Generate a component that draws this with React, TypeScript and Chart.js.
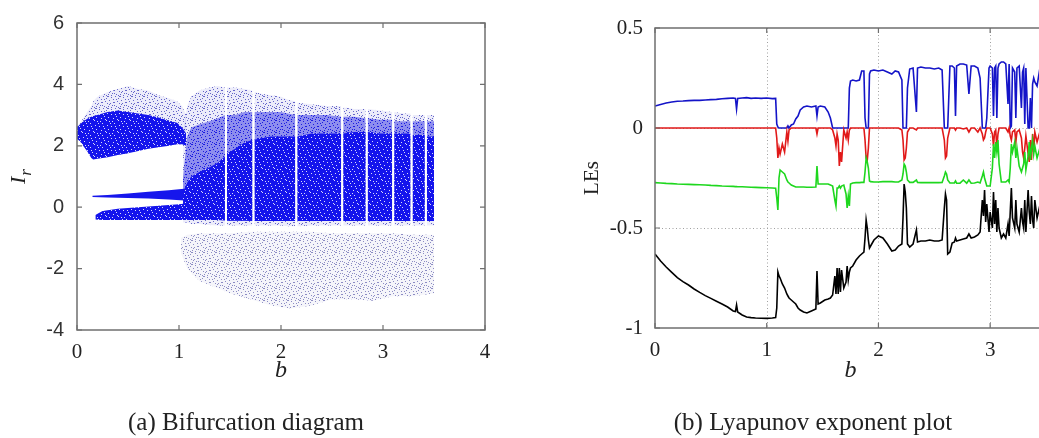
import React, { useEffect, useRef } from "react";
import { Chart, registerables } from "chart.js";

Chart.register(...registerables);

// ---------------- (a) Bifurcation diagram : envelopes ----------------
const bifXTicks = [0, 1, 2, 3, 4];
const bifYTicks = [-4, -2, 0, 2, 4, 6];

// upper band (before chaos)
const band1B = [0, 0.03, 0.06, 0.1, 0.14, 0.16, 0.2, 0.3, 0.4, 0.5, 0.6, 0.7, 0.8, 0.9, 0.98, 1.03, 1.07];
const band1Lo = [2.22, 2.15, 2.0, 1.82, 1.6, 1.55, 1.58, 1.63, 1.7, 1.76, 1.83, 1.9, 1.95, 2.0, 2.05, 2.05, 2.0];
const band1Hi = [2.6, 2.7, 2.78, 2.88, 2.95, 2.97, 3.0, 3.1, 3.15, 3.1, 3.05, 3.0, 2.92, 2.82, 2.75, 2.6, 2.4];
const band1Halo = [2.62, 2.75, 2.9, 3.1, 3.3, 3.45, 3.6, 3.75, 3.85, 3.95, 3.85, 3.8, 3.65, 3.55, 3.45, 3.3, 3.0];

// thin middle band
const midB = [0.15, 0.3, 0.5, 0.7, 0.9, 1.05];
const midLo = [0.33, 0.32, 0.3, 0.28, 0.25, 0.22];
const midHi = [0.37, 0.4, 0.45, 0.5, 0.55, 0.6];

// lower wedge
const lowB = [0.18, 0.25, 0.4, 0.6, 0.8, 1.0, 1.06];
const lowLo = [-0.4, -0.42, -0.42, -0.42, -0.42, -0.42, -0.42];
const lowHi = [-0.25, -0.12, -0.05, 0.0, 0.05, 0.1, 0.12];

// chaotic region (null = periodic window, white stripe)
const chaosB = [1.04, 1.08, 1.12, 1.2, 1.3, 1.38, 1.45, 1.46, 1.47, 1.55, 1.64, 1.72, 1.73, 1.74, 1.8, 1.9, 2.0, 2.07, 2.14, 2.15, 2.16, 2.3, 2.45, 2.59, 2.6, 2.61, 2.72, 2.83, 2.84, 2.85, 2.97, 3.09, 3.1, 3.11, 3.2, 3.27, 3.28, 3.29, 3.36, 3.41, 3.42, 3.43, 3.5];
const chaosCoreLo = [-0.4, -0.42, -0.42, -0.42, -0.42, -0.42, -0.43, null, -0.44, -0.44, -0.44, -0.45, null, -0.45, -0.45, -0.45, -0.45, -0.45, -0.45, null, -0.45, -0.45, -0.45, -0.45, null, -0.45, -0.45, -0.45, null, -0.45, -0.45, -0.45, null, -0.45, -0.45, -0.45, null, -0.45, -0.45, -0.45, null, -0.45, -0.45];
const chaosCoreHi = [0.5, 0.8, 1.0, 1.15, 1.3, 1.45, 1.65, null, 1.75, 1.9, 2.1, 2.2, null, 2.2, 2.25, 2.3, 2.3, 2.3, 2.3, null, 2.3, 2.4, 2.4, 2.4, null, 2.4, 2.45, 2.45, null, 2.45, 2.4, 2.4, null, 2.4, 2.4, 2.4, null, 2.35, 2.35, 2.35, null, 2.3, 2.3];
const chaosMidHi = [1.0, 2.3, 2.6, 2.7, 2.8, 2.9, 3.0, null, 3.0, 3.0, 3.1, 3.1, null, 3.1, 3.1, 3.1, 3.1, 3.05, 3.0, null, 3.0, 3.0, 3.0, 2.95, null, 2.95, 2.95, 2.9, null, 2.9, 2.85, 2.85, null, 2.8, 2.8, 2.8, null, 2.8, 2.8, 2.8, null, 2.8, 2.8];
const chaosHaloLo = [-0.5, -0.5, -0.55, -0.55, -0.58, -0.6, -0.6, null, -0.6, -0.6, -0.6, -0.6, null, -0.6, -0.6, -0.6, -0.6, -0.62, -0.62, null, -0.62, -0.6, -0.6, -0.6, null, -0.6, -0.6, -0.6, null, -0.6, -0.6, -0.6, null, -0.6, -0.6, -0.6, null, -0.6, -0.6, -0.6, null, -0.6, -0.6];
const chaosHaloHi = [2.5, 3.3, 3.6, 3.8, 3.9, 3.95, 3.9, null, 3.9, 3.9, 3.85, 3.8, null, 3.75, 3.7, 3.65, 3.6, 3.5, 3.45, null, 3.4, 3.35, 3.3, 3.3, null, 3.25, 3.2, 3.2, null, 3.2, 3.15, 3.1, null, 3.1, 3.05, 3.05, null, 3.0, 3.0, 3.0, null, 3.0, 3.0];

// sparse lower cloud
const cloudB = [1.02, 1.08, 1.2, 1.35, 1.5, 1.7, 1.9, 2.1, 2.3, 2.5, 2.7, 2.9, 3.1, 3.3, 3.5];
const cloudLo = [-1.5, -2.0, -2.4, -2.6, -2.8, -3.0, -3.2, -3.3, -3.2, -3.0, -3.0, -3.05, -2.9, -2.9, -2.8];
const cloudHi = [-1.0, -0.9, -0.85, -0.85, -0.85, -0.8, -0.8, -0.8, -0.8, -0.85, -0.85, -0.85, -0.85, -0.9, -0.9];

// ---------------- (b) Lyapunov exponents ----------------
const leXTicks = [0, 1, 2, 3];
const leYTicks = [-1, -0.5, 0, 0.5];

const leB = [
  0, 0.05, 0.1, 0.15, 0.2, 0.25, 0.3, 0.35, 0.4, 0.45, 0.5, 0.55, 0.6, 0.65, 0.7, 0.72, 0.73, 0.74, 0.78, 0.82, 0.86, 0.9, 0.95, 1.0, 1.05, 1.08,
  1.09, 1.10, 1.11, 1.12, 1.14, 1.16, 1.18, 1.19, 1.20, 1.22,
  1.24, 1.26, 1.28, 1.30, 1.33, 1.36, 1.40, 1.44, 1.45, 1.46,
  1.48, 1.52, 1.55, 1.57, 1.59, 1.61, 1.62, 1.63, 1.64, 1.65,
  1.66, 1.67, 1.69, 1.71, 1.72, 1.73, 1.74, 1.75, 1.77, 1.80,
  1.83, 1.85, 1.87, 1.88, 1.89, 1.90, 1.91, 1.92, 1.93, 1.96,
  2.00, 2.04, 2.08, 2.12, 2.15, 2.18, 2.21, 2.22, 2.23, 2.24,
  2.25, 2.26, 2.28, 2.31, 2.34, 2.35, 2.38, 2.42, 2.46, 2.50,
  2.54, 2.57, 2.59, 2.60, 2.61, 2.62, 2.64, 2.66, 2.68, 2.69,
  2.70, 2.73, 2.76, 2.79, 2.81, 2.83, 2.86, 2.89, 2.91, 2.93,
  2.94, 2.95, 2.96, 2.97, 2.99, 3.00, 3.02, 3.03, 3.04, 3.05,
  3.06, 3.07, 3.08, 3.10, 3.12, 3.14, 3.16, 3.17, 3.18, 3.19,
  3.20, 3.22, 3.23, 3.24, 3.26, 3.28, 3.29, 3.30, 3.31, 3.32,
  3.34, 3.35, 3.36, 3.37, 3.38, 3.39, 3.40, 3.42, 3.44, 3.46,
];
const leBlue = [
  0.110, 0.118, 0.125, 0.130, 0.134, 0.135, 0.137, 0.138, 0.138, 0.140, 0.142, 0.143, 0.146, 0.148, 0.150, 0.148, 0.095, 0.148, 0.150, 0.152, 0.148, 0.150, 0.148, 0.150, 0.147, 0.148,
  0.020, 0.005, 0.0, 0.0, 0.0, 0.0, 0.0, 0.01, 0.0, 0.015,
  0.02, 0.045, 0.06, 0.09, 0.105, 0.11, 0.105, 0.11, 0.06, 0.105,
  0.11, 0.105, 0.08, 0.05, 0.0, 0.0, 0.0, 0.0, 0.0, 0.0,
  0.0, 0.0, 0.0, 0.0, 0.0, 0.0, 0.20, 0.235, 0.24, 0.235,
  0.24, 0.285, 0.285, 0.05, 0.0, 0.0, 0.0, 0.27, 0.285, 0.29,
  0.285, 0.29, 0.28, 0.27, 0.285, 0.28, 0.24, 0.0, 0.0, 0.0,
  0.0, 0.20, 0.295, 0.30, 0.08, 0.30, 0.305, 0.30, 0.30, 0.295,
  0.30, 0.29, 0.0, 0.0, 0.0, 0.0, 0.31, 0.31, 0.30, 0.06,
  0.31, 0.32, 0.32, 0.315, 0.17, 0.31, 0.31, 0.30, 0.25, 0.0,
  0.0, 0.0, 0.0, 0.05, 0.30, 0.31, 0.30, 0.06, 0.30, 0.31,
  0.05, 0.30, 0.32, 0.33, 0.33, 0.32, 0.12, 0.32, 0.0, 0.01,
  0.30, 0.28, 0.05, 0.30, 0.31, 0.10, 0.28, 0.30, 0.02, 0.30,
  0.0, 0.0, 0.15, 0.0, 0.22, 0.25, 0.23, 0.21, 0.28, 0.15,
];
const leRed = [
  0, 0, 0, 0, 0, 0, 0, 0, 0, 0, 0, 0, 0, 0, 0, 0, 0, 0, 0, 0, 0, 0, 0, 0, 0, 0,
  -0.05, -0.15, -0.10, -0.13, -0.08, -0.12, -0.02, -0.065, -0.01, 0,
  0, 0, 0, 0, 0, 0, 0, 0, -0.03, 0,
  0, 0, 0, 0, -0.01, -0.05, -0.09, -0.03, -0.06, -0.19,
  -0.12, -0.17, -0.01, -0.05, -0.02, -0.06, -0.01, 0, 0, 0,
  0, 0, 0, -0.06, -0.15, -0.16, -0.10, 0, 0, 0,
  0, 0, 0, 0, 0, 0, -0.01, -0.06, -0.16, -0.15,
  -0.10, -0.02, 0, 0, -0.01, 0, 0, 0, 0, 0,
  0, 0, -0.06, -0.15, -0.14, -0.05, 0, 0, 0, -0.01,
  0, 0, -0.005, 0, -0.02, 0, 0, -0.02, 0, -0.03,
  -0.06, -0.05, -0.02, 0, 0, 0, -0.03, -0.09, -0.02, -0.01,
  -0.10, -0.03, 0, 0, 0, 0, -0.02, 0, -0.04, -0.06,
  -0.02, -0.01, -0.07, -0.02, -0.01, -0.05, -0.12, -0.15, -0.10, -0.04,
  -0.13, -0.17, -0.06, -0.16, -0.03, -0.12, -0.02, -0.07, -0.03, -0.08,
];
const leGreen = [
  -0.273, -0.275, -0.277, -0.278, -0.280, -0.281, -0.282, -0.283, -0.284, -0.285, -0.287, -0.288, -0.290, -0.291, -0.292, -0.293, -0.293, -0.294, -0.294, -0.295, -0.296, -0.297, -0.298, -0.299, -0.300, -0.301,
  -0.35, -0.41, -0.25, -0.21, -0.22, -0.23, -0.26, -0.27, -0.275, -0.285,
  -0.29, -0.295, -0.295, -0.295, -0.295, -0.296, -0.296, -0.295, -0.19, -0.28,
  -0.28, -0.28, -0.28, -0.285, -0.29, -0.36, -0.39, -0.30, -0.30, -0.29,
  -0.30, -0.29, -0.285, -0.33, -0.40, -0.34, -0.39, -0.28, -0.275, -0.273,
  -0.273, -0.272, -0.272, -0.22, -0.15, -0.17, -0.20, -0.265, -0.268, -0.27,
  -0.27, -0.268, -0.268, -0.268, -0.27, -0.27, -0.26, -0.23, -0.18, -0.19,
  -0.22, -0.26, -0.272, -0.272, -0.26, -0.272, -0.273, -0.273, -0.273, -0.273,
  -0.273, -0.272, -0.24, -0.22, -0.23, -0.26, -0.275, -0.275, -0.275, -0.265,
  -0.276, -0.276, -0.26, -0.276, -0.26, -0.276, -0.275, -0.27, -0.275, -0.24,
  -0.22, -0.25, -0.27, -0.29, -0.29, -0.29, -0.20, -0.08, -0.15, -0.07,
  -0.12, -0.06, -0.18, -0.27, -0.27, -0.27, -0.26, -0.27, -0.20, -0.08,
  -0.12, -0.07, -0.15, -0.10, -0.19, -0.22, -0.20, -0.18, -0.12, -0.21,
  -0.14, -0.07, -0.16, -0.10, -0.06, -0.13, -0.09, -0.15, -0.11, -0.14,
];
const leBlack = [
  -0.630, -0.665, -0.695, -0.722, -0.748, -0.768, -0.785, -0.805, -0.822, -0.838, -0.852, -0.866, -0.880, -0.895, -0.915, -0.918, -0.885, -0.920, -0.935, -0.945, -0.948, -0.950, -0.951, -0.952, -0.950, -0.948,
  -0.90, -0.72, -0.74, -0.75, -0.78, -0.80, -0.83, -0.84, -0.85, -0.86,
  -0.87, -0.88, -0.90, -0.91, -0.92, -0.925, -0.915, -0.905, -0.715, -0.88,
  -0.875, -0.86, -0.855, -0.85, -0.835, -0.74, -0.83, -0.70, -0.83, -0.70,
  -0.82, -0.71, -0.80, -0.77, -0.69, -0.76, -0.72, -0.70, -0.69, -0.66,
  -0.64, -0.63, -0.62, -0.55, -0.46, -0.50, -0.56, -0.60, -0.59, -0.56,
  -0.54, -0.55, -0.58, -0.615, -0.61, -0.59, -0.58, -0.45, -0.28, -0.32,
  -0.40, -0.58, -0.595, -0.58, -0.51, -0.57, -0.565, -0.565, -0.56, -0.565,
  -0.565, -0.56, -0.40, -0.33, -0.36, -0.63, -0.62, -0.575, -0.57, -0.55,
  -0.565, -0.56, -0.555, -0.55, -0.53, -0.55, -0.545, -0.535, -0.52, -0.36,
  -0.44, -0.31, -0.47, -0.38, -0.52, -0.42, -0.50, -0.32, -0.48, -0.36,
  -0.52, -0.40, -0.50, -0.55, -0.53, -0.55, -0.48, -0.54, -0.42, -0.30,
  -0.45, -0.50, -0.36, -0.48, -0.52, -0.40, -0.47, -0.50, -0.36, -0.52,
  -0.31, -0.42, -0.48, -0.34, -0.46, -0.50, -0.36, -0.45, -0.40, -0.48,
];

// ---------------- helpers ----------------
const SERIF = '"Liberation Serif", "Times New Roman", serif';
const SANS = '"Liberation Sans", Arial, sans-serif';
const AXIS_COLOR = "#6f6f6f";

// fixed speckle layouts for the fill textures (12x12 tiles)
const CORE_SPECKS = [[1, 1], [6, 3], [10, 0], [3, 6], [8, 8], [0, 9], [5, 10], [11, 5], [7, 6], [2, 3], [9, 11], [4, 1]];
const HALO_SPECKS = [[0, 0], [3, 1], [7, 0], [10, 2], [1, 4], [5, 3], [9, 5], [2, 7], [6, 6], [11, 7], [0, 10], [4, 9], [8, 10], [10, 11], [3, 11], [6, 9], [11, 0], [8, 3], [1, 8], [5, 6]];

function makePattern(bg: string | null, dot: string, specks: number[][], w = 1) {
  const c = document.createElement("canvas");
  c.width = 12; c.height = 12;
  const g = c.getContext("2d") as CanvasRenderingContext2D;
  if (bg) { g.fillStyle = bg; g.fillRect(0, 0, 12, 12); }
  g.fillStyle = dot;
  specks.forEach(([x, y]) => g.fillRect(x, y, w, 1));
  return g.createPattern(c, "repeat") as CanvasPattern;
}

const toPoints = (b: number[], v: (number | null)[]) => b.map((x, i) => ({ x, y: v[i] }));

function pushBand(list: any[], b: number[], lo: (number | null)[], hi: (number | null)[], color: any, order: number) {
  const loIndex = list.length;
  list.push({
    type: "line", data: toPoints(b, lo), borderColor: "rgba(0,0,0,0)", borderWidth: 0,
    pointRadius: 0, fill: false, order, spanGaps: false, tension: 0,
  });
  list.push({
    type: "line", data: toPoints(b, hi), borderColor: "rgba(0,0,0,0)", borderWidth: 0,
    pointRadius: 0, fill: loIndex, backgroundColor: color, order, spanGaps: false, tension: 0,
  });
}

function framePlugin(withGrid: boolean) {
  return {
    id: "frame",
    beforeDatasetsDraw(chart: any) {
      if (!withGrid) return;
      const { ctx, chartArea: a, scales } = chart;
      ctx.save();
      ctx.strokeStyle = "#a0a0a0";
      ctx.lineWidth = 1;
      ctx.setLineDash([1, 2.5]);
      scales.x.ticks.forEach((t: any) => {
        const px = Math.round(scales.x.getPixelForValue(t.value)) + 0.5;
        if (px <= a.left + 1 || px >= a.right - 1) return;
        ctx.beginPath(); ctx.moveTo(px, a.top); ctx.lineTo(px, a.bottom); ctx.stroke();
      });
      scales.y.ticks.forEach((t: any) => {
        const py = Math.round(scales.y.getPixelForValue(t.value)) + 0.5;
        if (py <= a.top + 1 || py >= a.bottom - 1) return;
        ctx.beginPath(); ctx.moveTo(a.left, py); ctx.lineTo(a.right, py); ctx.stroke();
      });
      ctx.restore();
    },
    afterDatasetsDraw(chart: any) {
      const { ctx, chartArea: a, scales } = chart;
      ctx.save();
      ctx.strokeStyle = AXIS_COLOR;
      ctx.lineWidth = 1.5;
      ctx.setLineDash([]);
      ctx.strokeRect(a.left, a.top, a.right - a.left, a.bottom - a.top);
      const L = 5;
      ctx.lineWidth = 1.2;
      scales.x.ticks.forEach((t: any) => {
        const px = scales.x.getPixelForValue(t.value);
        ctx.beginPath();
        ctx.moveTo(px, a.bottom); ctx.lineTo(px, a.bottom - L);
        ctx.moveTo(px, a.top); ctx.lineTo(px, a.top + L);
        ctx.stroke();
      });
      scales.y.ticks.forEach((t: any) => {
        const py = scales.y.getPixelForValue(t.value);
        ctx.beginPath();
        ctx.moveTo(a.left, py); ctx.lineTo(a.left + L, py);
        ctx.moveTo(a.right, py); ctx.lineTo(a.right - L, py);
        ctx.stroke();
      });
      ctx.restore();
    },
  };
}

const irLabelPlugin = {
  id: "irLabel",
  afterDraw(chart: any) {
    const { ctx, chartArea: a } = chart;
    const cy = (a.top + a.bottom) / 2;
    ctx.save();
    ctx.translate(25, cy);
    ctx.rotate(-Math.PI / 2);
    ctx.fillStyle = "#222";
    ctx.textBaseline = "alphabetic";
    ctx.font = `italic 22px ${SERIF}`;
    const wI = ctx.measureText("I").width;
    ctx.font = `italic 17px ${SERIF}`;
    const wr = ctx.measureText("r").width;
    const x0 = -(wI + wr + 1) / 2;
    ctx.font = `italic 22px ${SERIF}`;
    ctx.fillText("I", x0, 0);
    ctx.font = `italic 17px ${SERIF}`;
    ctx.fillText("r", x0 + wI + 1, 6);
    ctx.restore();
  },
};

const plainNumber = (v: any) => String(Math.round(Number(v) * 100) / 100);

// ---------------- component ----------------
export default function App() {
  const leftRef = useRef<HTMLCanvasElement | null>(null);
  const rightRef = useRef<HTMLCanvasElement | null>(null);

  useEffect(() => {
    const corePat = makePattern("rgb(20,20,236)", "rgba(225,225,250,0.95)", CORE_SPECKS);
    const midPat = makePattern("rgba(40,40,225,0.48)", "rgba(25,25,225,0.95)", HALO_SPECKS);
    const haloPat = makePattern("rgba(100,100,210,0.12)", "rgba(55,55,185,0.75)", HALO_SPECKS);
    const cloudPat = makePattern("rgba(110,110,190,0.07)", "rgba(70,70,160,0.6)", HALO_SPECKS);

    // ---- left chart ----
    const leftSets: any[] = [];
    pushBand(leftSets, cloudB, cloudLo, cloudHi, cloudPat, 3);
    pushBand(leftSets, chaosB, chaosHaloLo, chaosHaloHi, haloPat, 3);
    pushBand(leftSets, band1B, band1Lo, band1Halo, haloPat, 3);
    pushBand(leftSets, chaosB, chaosCoreLo, chaosMidHi, midPat, 2);
    pushBand(leftSets, chaosB, chaosCoreLo, chaosCoreHi, corePat, 1);
    pushBand(leftSets, band1B, band1Lo, band1Hi, corePat, 1);
    pushBand(leftSets, midB, midLo, midHi, "rgb(22,22,236)", 1);
    pushBand(leftSets, lowB, lowLo, lowHi, corePat, 1);

    const left = new Chart(leftRef.current as HTMLCanvasElement, {
      type: "line",
      data: { datasets: leftSets },
      options: {
        animation: false,
        responsive: false,
        events: [],
        layout: { padding: { left: 0, top: 23, right: 35, bottom: 53 } },
        plugins: { legend: { display: false }, tooltip: { enabled: false } },
        scales: {
          x: {
            type: "linear", min: 0, max: 4,
            afterBuildTicks: (s: any) => { s.ticks = bifXTicks.map((v) => ({ value: v })); },
            afterFit: (s: any) => { s.height = 55; },
            grid: { display: false }, border: { display: false },
            ticks: { font: { family: SERIF, size: 21 }, color: "#222", padding: 2, maxRotation: 0, autoSkip: false, callback: plainNumber },
            title: { display: true, text: "b", font: { family: SERIF, size: 24, style: "italic" }, color: "#222", padding: { top: 0, bottom: 0 } },
          },
          y: {
            type: "linear", min: -4, max: 6,
            afterBuildTicks: (s: any) => { s.ticks = bifYTicks.map((v) => ({ value: v })); },
            afterFit: (s: any) => { s.width = 77; },
            grid: { display: false }, border: { display: false },
            ticks: { font: { family: SANS, size: 20 }, color: "#333", padding: 5, autoSkip: false, callback: plainNumber },
          },
        },
      } as any,
      plugins: [framePlugin(false), irLabelPlugin],
    });

    // ---- right chart ----
    const lineStyle = { pointRadius: 0, borderWidth: 1.6, tension: 0, fill: false };
    const right = new Chart(rightRef.current as HTMLCanvasElement, {
      type: "line",
      data: {
        datasets: [
          { label: "LE1", data: toPoints(leB, leBlue), borderColor: "rgb(20,20,200)", order: 4, ...lineStyle },
          { label: "LE2", data: toPoints(leB, leRed), borderColor: "rgb(225,25,25)", order: 3, ...lineStyle },
          { label: "LE3", data: toPoints(leB, leGreen), borderColor: "rgb(30,215,30)", order: 2, ...lineStyle },
          { label: "LE4", data: toPoints(leB, leBlack), borderColor: "rgb(0,0,0)", order: 1, ...lineStyle },
        ],
      },
      options: {
        animation: false,
        responsive: false,
        events: [],
        layout: { padding: { left: 0, top: 28, right: 14, bottom: 53 } },
        plugins: { legend: { display: false }, tooltip: { enabled: false } },
        scales: {
          x: {
            type: "linear", min: 0, max: 3.5,
            afterBuildTicks: (s: any) => { s.ticks = leXTicks.map((v) => ({ value: v })); },
            afterFit: (s: any) => { s.height = 57; },
            grid: { display: false }, border: { display: false },
            ticks: { font: { family: SERIF, size: 21 }, color: "#222", padding: 2, maxRotation: 0, autoSkip: false, callback: plainNumber },
            title: { display: true, text: "b", font: { family: SERIF, size: 24, style: "italic" }, color: "#222", padding: { top: 0, bottom: 0 } },
          },
          y: {
            type: "linear", min: -1, max: 0.5,
            afterBuildTicks: (s: any) => { s.ticks = leYTicks.map((v) => ({ value: v })); },
            afterFit: (s: any) => { s.width = 135; },
            grid: { display: false }, border: { display: false },
            ticks: { font: { family: SERIF, size: 21 }, color: "#222", padding: 4, autoSkip: false, callback: plainNumber },
            title: { display: true, text: "LEs", font: { family: SERIF, size: 21 }, color: "#222", padding: { top: 60, bottom: 0 } },
          },
        },
      } as any,
      plugins: [framePlugin(true)],
    });

    return () => {
      left.destroy();
      right.destroy();
    };
  }, []);

  const captionStyle: React.CSSProperties = {
    position: "absolute", top: 407, width: 420, textAlign: "center",
    fontFamily: SERIF, fontSize: 25, lineHeight: "30px", color: "#222", whiteSpace: "nowrap",
  };

  return (
    <div style={{ position: "fixed", left: 0, top: 0, width: 1039, height: 438, overflow: "hidden", background: "#fff" }}>
      <canvas ref={leftRef} width={520} height={438} style={{ position: "absolute", left: 0, top: 0, width: 520, height: 438 }} />
      <canvas ref={rightRef} width={540} height={438} style={{ position: "absolute", left: 520, top: 0, width: 540, height: 438 }} />
      <div style={{ ...captionStyle, left: 246 - 210 }}>(a) Bifurcation diagram</div>
      <div style={{ ...captionStyle, left: 813 - 210 }}>(b) Lyapunov exponent plot</div>
    </div>
  );
}
